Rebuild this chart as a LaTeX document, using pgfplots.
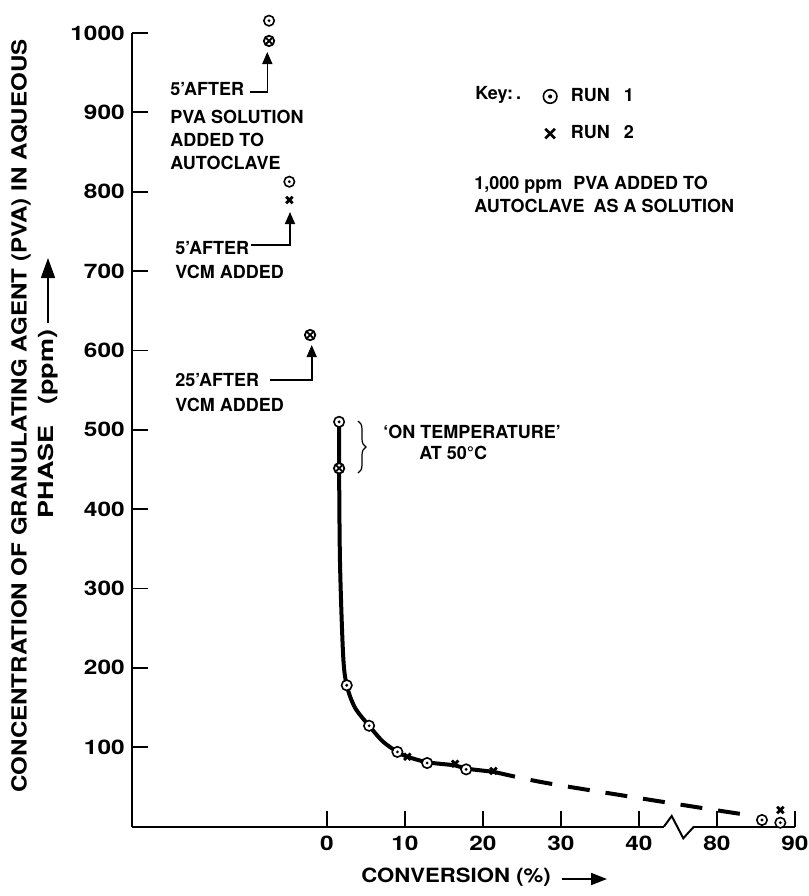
\documentclass[border=0pt]{standalone}
\usepackage{pgfplots}
\pgfplotsset{compat=1.18}
\usepackage{fontspec}
\setmainfont{TeX Gyre Heros}
\usetikzlibrary{arrows.meta,decorations.pathreplacing}

\newcommand\fs[1]{\fontsize{#1}{#1}\selectfont\bfseries}
\newcommand\tl[1]{\scalebox{1.22}[1]{#1}}

% run 1: circle with a dot
\pgfdeclareplotmark{odot}{%
  \pgfpathcircle{\pgfpointorigin}{\pgfplotmarksize}%
  \pgfsetfillcolor{white}%
  \pgfusepathqfillstroke
  \pgfpathcircle{\pgfpointorigin}{0.3\pgfplotmarksize}%
  \pgfsetfillcolor{black}%
  \pgfusepathqfill
}
% both runs on the same point
\pgfdeclareplotmark{otimes}{%
  \pgfpathcircle{\pgfpointorigin}{\pgfplotmarksize}%
  \pgfsetfillcolor{white}%
  \pgfusepathqfillstroke
  \pgfpathmoveto{\pgfqpoint{-0.55\pgfplotmarksize}{-0.55\pgfplotmarksize}}%
  \pgfpathlineto{\pgfqpoint{0.55\pgfplotmarksize}{0.55\pgfplotmarksize}}%
  \pgfpathmoveto{\pgfqpoint{-0.55\pgfplotmarksize}{0.55\pgfplotmarksize}}%
  \pgfpathlineto{\pgfqpoint{0.55\pgfplotmarksize}{-0.55\pgfplotmarksize}}%
  \pgfusepathqstroke
}

\begin{document}
\begin{tikzpicture}
\useasboundingbox (0pt,0pt) rectangle (404.5pt,-448pt);
\begin{axis}[
    at={(65.85pt,-413.25pt)}, anchor=south west,
    scale only axis, width=331.65pt, height=396.75pt,
    xmin=-25, xmax=60, ymin=0, ymax=1000,
    axis lines=left, axis line style={-, line width=1pt},
    tick align=inside, major tick length=8pt,
    tick style={line width=0.9pt, black},
    xtick={0,10,20,30,40,50,60},
    xticklabels={\tl{0},\tl{10},\tl{20},\tl{30},\tl{40},\tl{80},\tl{90}},
    ytick={100,200,300,400,500,600,700,800,900,1000},
    yticklabels={\tl{100},\tl{200},\tl{300},\tl{400},\tl{500},\tl{600},\tl{700},\tl{800},\tl{900},\tl{1000}},
    tick label style={font=\fs{10}},
    xticklabel style={yshift=-1pt},
    clip=false,
    % conversions of 80 % and more sit after the axis break
    x filter/.expression={x>60 ? x-30 : x},
    legend style={at={(0.620,0.9357)}, anchor=north west, draw=none, fill=none,
        inner sep=0pt, font=\fs{9}, row sep=6.5pt,
        /tikz/every odd column/.append style={column sep=5pt}},
    legend cell align=left,
    legend image code/.code={\draw[mark repeat=2,mark phase=2,#1,mark size=3.4pt]
        plot coordinates {(0pt,0pt)(3.4pt,0pt)(6.8pt,0pt)};},
]
% fitted curve
\addplot[forget plot, line width=2pt, smooth, tension=0.5] coordinates {
    (1.58,510) (1.58,451) (1.7,330) (2.1,215) (2.56,178) (3.6,150) (5.42,127)
    (7.2,107) (9.05,94) (10.33,88) (12.86,81) (16.45,77) (17.86,73) (21.36,69)};
\addplot[forget plot, line width=2pt, dash pattern=on 11pt off 8pt, smooth] coordinates {
    (21.36,69) (27.5,56) (38,39) (79.6,21) (84,14.5)};

% run 1
\addplot[only marks, mark=odot, mark size=2.6pt, mark options={line width=0.8pt}] coordinates {
    (-7.4,1015.5) (-4.8,812.6) (1.58,510) (2.56,178) (5.42,127) (9.05,94)
    (12.86,80) (17.86,72) (85.77,8.2) (88.12,4.8)};
\addlegendentry{RUN\hspace{7pt}1}
% run 2
\addplot[only marks, mark=x, mark size=2.3pt, mark options={line width=1.4pt}] coordinates {
    (-4.8,789.5) (10.33,88) (16.45,79) (21.36,70) (88.12,20.8)};
\addlegendentry{RUN\hspace{7pt}2}
% runs 1 and 2 together
\addplot[forget plot, only marks, mark=otimes, mark size=2.6pt, mark options={line width=0.9pt}] coordinates {
    (-7.4,990) (-2.14,619.4) (1.58,451.4)};
\end{axis}

% annotations, in pixels of the original figure
\begin{scope}[x=0.5pt, y=-0.5pt, every node/.style={inner sep=0pt, font=\fs{9}}]
  % axis break
  \fill[white] (664,822) rectangle (694,832);
  \draw[line width=1pt, line join=miter] (664,826.5) -- (671.7,816) -- (683.3,838.3) -- (694,826.5);

  \node[anchor=west] at (170,89.5) {5’AFTER};
  \node[anchor=west] at (170,117) {PVA SOLUTION};
  \node[anchor=west] at (170,140) {ADDED TO};
  \node[anchor=west] at (170,163) {AUTOCLAVE};
  \draw[line width=0.8pt, -{Triangle[length=6pt,width=5pt]}] (250,92) -- (267.3,92) -- (267.3,52);

  \node[anchor=west] at (175,248) {5’AFTER};
  \node[anchor=west] at (175,272) {VCM ADDED};
  \draw[line width=0.8pt, -{Triangle[length=6pt,width=5pt]}] (251,245) -- (290,245) -- (290,212);

  \node[anchor=west] at (175,380) {25’AFTER};
  \node[anchor=west] at (175,405) {VCM ADDED};
  \draw[line width=0.8pt, -{Triangle[length=6pt,width=5pt]}] (270,380) -- (311.7,380) -- (311.7,345);

  \draw[line width=0.6pt, decorate, decoration={brace, amplitude=4pt}] (358,421) -- (358,473);
  \node[anchor=west] at (383,432) {‘ON TEMPERATURE’};
  \node[anchor=west] at (419,453) {AT 50°C};

  \node[anchor=west] at (475,95) {Key:\,.};
  \node[anchor=west] at (474,185) {1,000 ppm\hspace{3pt} PVA ADDED TO};
  \node[anchor=west] at (474,206) {AUTOCLAVE\hspace{2pt} AS A SOLUTION};

  % axis titles
  \node[rotate=90, font=\fs{10.4}] at (21,416) {\scalebox{1.16}[1]{CONCENTRATION OF GRANULATING AGENT (PVA) IN AQUEOUS}};
  \node[rotate=90, font=\fs{10.4}] at (48,424) {\scalebox{1.3}[1]{PHASE\hspace{8pt}(ppm)}};
  \draw[line width=0.9pt, -{Triangle[length=10pt,width=7pt]}] (48,323) -- (48,258);
  \node[font=\fs{9.8}] at (456,877) {\scalebox{1.13}[1]{CONVERSION (\%)}};
  \draw[line width=0.9pt, -{Triangle[length=8pt,width=6pt]}] (562,879) -- (607,879);
\end{scope}
\end{tikzpicture}
\end{document}
